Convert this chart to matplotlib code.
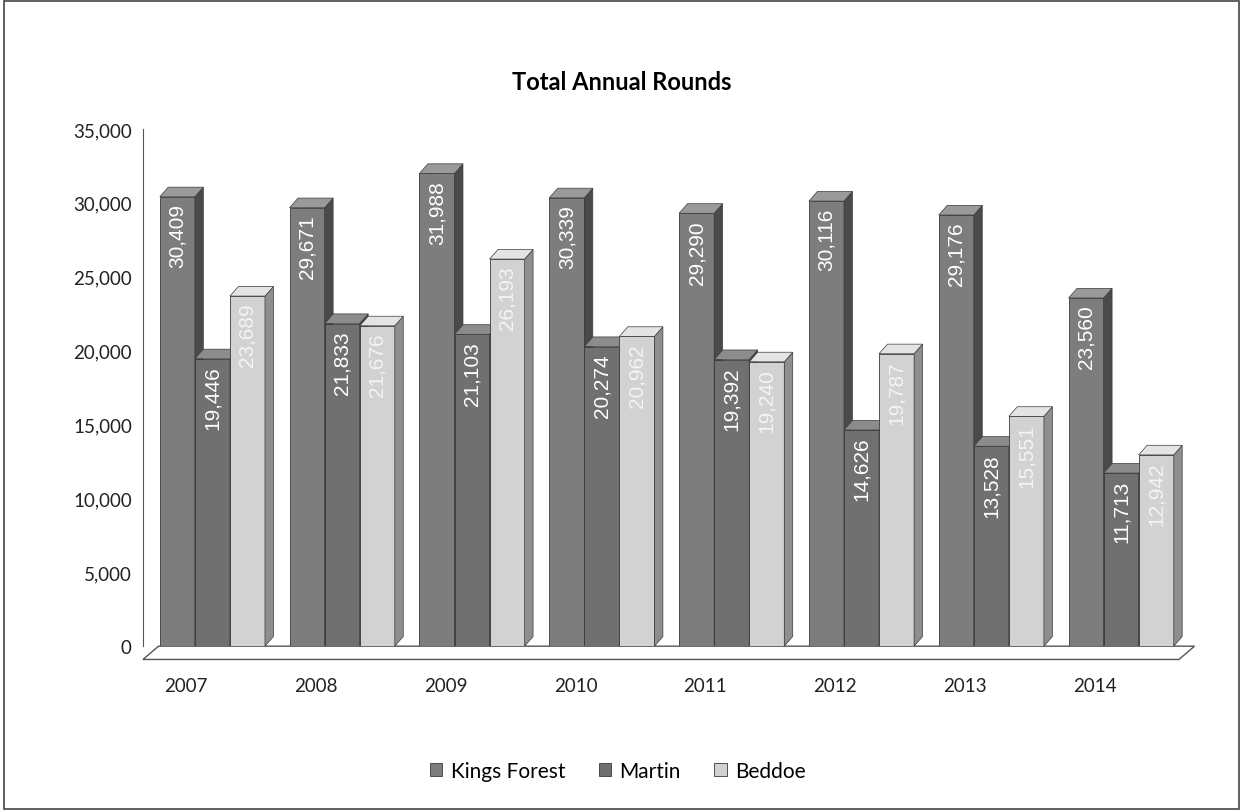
import numpy as np
import matplotlib.pyplot as plt
from matplotlib.patches import Polygon

years = ['2007', '2008', '2009', '2010', '2011', '2012', '2013', '2014']
kings_forest = [30409, 29671, 31988, 30339, 29290, 30116, 29176, 23560]
martin = [19446, 21833, 21103, 20274, 19392, 14626, 13528, 11713]
beddoe = [23689, 21676, 26193, 20962, 19240, 19787, 15551, 12942]

series = ['Kings Forest', 'Martin', 'Beddoe']
values = [kings_forest, martin, beddoe]
front = ['#7d7d7d', '#707070', '#d2d2d2']
side = ['#4a4a4a', '#444444', '#8e8e8e']
top = ['#9a9a9a', '#8c8c8c', '#e4e4e4']
label_col = ['white', 'white', '#f4f4f4']

plt.rcParams['font.family'] = ['Lato', 'DejaVu Sans']

fig = plt.figure(figsize=(12.43, 8.12), dpi=100)
ax = fig.add_axes([0.115, 0.203, 0.846, 0.637])

x = np.arange(len(years))
w = 0.27
dx = 0.065
dy = 650

for k in range(3):
    pos = x + 0.035 + (k - 1) * w
    bars = ax.bar(pos, values[k], width=w, color=front[k], edgecolor='#3a3a3a',
                  linewidth=0.6, zorder=3 + k, label=series[k])
    for b, v in zip(bars, values[k]):
        x0 = b.get_x()
        x1 = x0 + b.get_width()
        ax.add_patch(Polygon([(x1, 0), (x1 + dx, dy), (x1 + dx, v + dy), (x1, v)],
                             closed=True, facecolor=side[k], edgecolor='#3a3a3a',
                             linewidth=0.5, zorder=3 + k))
        ax.add_patch(Polygon([(x0, v), (x0 + dx, v + dy), (x1 + dx, v + dy), (x1, v)],
                             closed=True, facecolor=top[k], edgecolor='#3a3a3a',
                             linewidth=0.5, zorder=3 + k))
        ax.text(x0 + w / 2, v - 450, f'{v:,}', rotation=90, ha='center', va='top',
                color=label_col[k], fontsize=15, family='Liberation Sans',
                zorder=10)

# floor
ax.add_patch(Polygon([(-0.5, -900), (-0.5 + 0.12, 0), (7.6, 0), (7.6 - 0.12, -900)],
                     closed=True, facecolor='white', edgecolor='#555555',
                     linewidth=1.0, zorder=1, clip_on=False))

ax.set_xlim(-0.5, 7.6)
ax.set_ylim(0, 35000)
ax.set_yticks(np.arange(0, 35001, 5000))
ax.set_yticklabels([f'{t:,}' for t in range(0, 35001, 5000)])
ax.set_xticks(x - 0.167)
ax.set_xticklabels(years)
ax.tick_params(axis='both', length=0, labelsize=13.5, colors='#222222')
ax.tick_params(axis='x', pad=22)
ax.tick_params(axis='y', pad=8)
for s in ['top', 'right', 'bottom']:
    ax.spines[s].set_visible(False)
ax.spines['left'].set_color('#555555')

fig.suptitle('Total Annual Rounds', y=0.912, fontsize=17, fontweight='bold')
fig.legend(loc='center', bbox_to_anchor=(0.497, 0.049), ncol=3, frameon=False,
           fontsize=15, handlelength=0.6, handleheight=0.6, columnspacing=1.6,
           handletextpad=0.4)

fig.patches.append(plt.Rectangle((0.003, 0.003), 0.994, 0.994, transform=fig.transFigure,
                                 fill=False, edgecolor='#444444', linewidth=1.2))

plt.savefig('out.png', dpi=100)
